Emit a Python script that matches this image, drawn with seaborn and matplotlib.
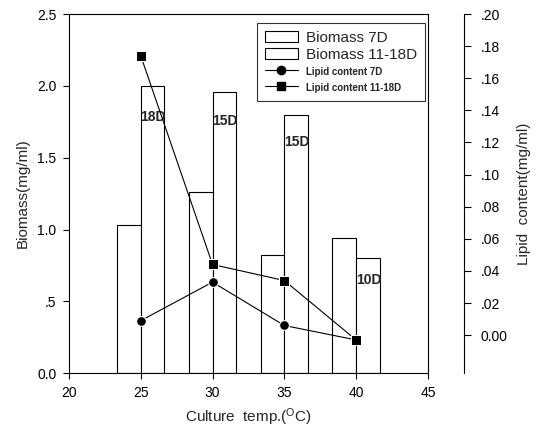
import matplotlib
matplotlib.use("Agg")
import matplotlib.pyplot as plt
import seaborn as sns
import pandas as pd
from matplotlib.patches import Patch
from matplotlib.lines import Line2D
from matplotlib.ticker import FixedLocator

temps = [25, 30, 35, 40]
biomass_7d = [1.03, 1.26, 0.82, 0.94]
biomass_long = [2.00, 1.96, 1.80, 0.80]
long_days = ["18D", "15D", "15D", "10D"]
lipid_7d = [0.009, 0.033, 0.006, -0.003]
lipid_long = [0.174, 0.044, 0.034, -0.003]

x_ticks = [20, 25, 30, 35, 40, 45]
left_ticks = [0.0, 0.5, 1.0, 1.5, 2.0, 2.5]
left_labels = ["0.0", ".5", "1.0", "1.5", "2.0", "2.5"]
right_ticks = [0.0, 0.02, 0.04, 0.06, 0.08, 0.10, 0.12, 0.14, 0.16, 0.18, 0.20]
right_labels = ["0.00", ".02", ".04", ".06", ".08", ".10", ".12", ".14", ".16", ".18", ".20"]

sns.set_style("ticks")
plt.rcParams["font.family"] = ["Liberation Sans", "DejaVu Sans"]

bars = pd.DataFrame({
    "temp": temps * 2,
    "biomass": biomass_7d + biomass_long,
    "series": ["Biomass 7D"] * 4 + ["Biomass 11-18D"] * 4,
})

fig = plt.figure(figsize=(5.43, 4.38), dpi=100)
ax = fig.add_axes([0.127, 0.148, 0.661, 0.820])

sns.barplot(data=bars, x="temp", y="biomass", hue="series", native_scale=True,
            width=0.66, dodge=True, palette=["white", "white"], edgecolor="black",
            linewidth=0.8, ax=ax, legend=False, errorbar=None)

ax.set_xlim(20, 45)
ax.set_ylim(0, 2.5)
ax.xaxis.set_major_locator(FixedLocator(x_ticks))
ax.set_xticklabels([str(t) for t in x_ticks], fontsize=10)
ax.yaxis.set_major_locator(FixedLocator(left_ticks))
ax.set_yticklabels(left_labels, fontsize=10)
ax.set_xlabel("Culture  temp.($\\mathregular{^{O}}$C)", fontsize=11, labelpad=5)
ax.set_ylabel("Biomass(mg/ml)", fontsize=11, labelpad=5)
for s in ax.spines.values():
    s.set_visible(True)
    s.set_linewidth(0.8)
    s.set_color("black")
ax.tick_params(axis="both", direction="out", length=4, width=0.8, colors="black", pad=5)

# day labels on long-culture bars
label_y = [1.78, 1.755, 1.61, 0.65]
for t, lab, yy in zip(temps, long_days, label_y):
    ax.text(t - 0.02, yy, lab, fontsize=10, fontweight="bold", ha="left", va="center")

ax2 = ax.twinx()
lines = pd.DataFrame({
    "temp": temps * 2,
    "lipid": lipid_7d + lipid_long,
    "series": ["Lipid content 7D"] * 4 + ["Lipid content 11-18D"] * 4,
})
sns.lineplot(data=lines, x="temp", y="lipid", hue="series", style="series",
             markers={"Lipid content 7D": "o", "Lipid content 11-18D": "s"},
             dashes=False, palette=["black", "black"], markersize=7,
             linewidth=0.8, ax=ax2, legend=False)
ax2.set_ylim(-0.0237, 0.20)
ax2.yaxis.set_major_locator(FixedLocator(right_ticks))
ax2.set_yticklabels(right_labels, fontsize=10)
ax2.set_ylabel("Lipid  content(mg/ml)", fontsize=11, labelpad=7)
ax2.set_xlabel("")
for name in ["left", "top", "bottom"]:
    ax2.spines[name].set_visible(False)
ax2.spines["right"].set_position(("outward", 26))
ax2.spines["right"].set_linewidth(0.8)
ax2.spines["right"].set_color("black")
ax2.tick_params(axis="y", direction="out", length=5, width=0.8, colors="black", pad=7)

handles = [
    Patch(facecolor="white", edgecolor="black", linewidth=0.8),
    Patch(facecolor="white", edgecolor="black", linewidth=0.8),
    Line2D([], [], color="black", marker="o", markersize=6, linewidth=0.8),
    Line2D([], [], color="black", marker="s", markersize=6, linewidth=0.8),
]
names = ["Biomass 7D", "Biomass 11-18D", "Lipid content 7D", "Lipid content 11-18D"]
leg = ax2.legend(handles, names, loc="upper left", bbox_to_anchor=(0.524, 0.975),
                 borderaxespad=0, fontsize=11, frameon=True, fancybox=False,
                 edgecolor="black", handlelength=2.2, handletextpad=0.5,
                 borderpad=0.5, labelspacing=0.2)
leg.get_frame().set_linewidth(0.8)
for t in leg.get_texts()[2:]:
    t.set_fontsize(7)
    t.set_fontweight("bold")

fig.savefig("out.png", dpi=100)
